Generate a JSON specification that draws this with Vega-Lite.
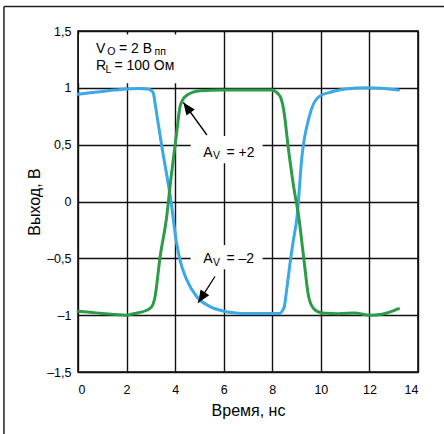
{
  "$schema": "https://vega.github.io/schema/vega-lite/v6.json",
  "width": 340,
  "height": 341,
  "autosize": "none",
  "padding": {"left": 78, "top": 31, "right": 26, "bottom": 62},
  "background": "white",
  "config": {
    "font": "Liberation Sans",
    "view": {"stroke": "#000", "strokeWidth": 1.5},
    "axis": {
      "grid": true,
      "gridColor": "#111",
      "gridWidth": 1.4,
      "gridOpacity": 1,
      "domain": false,
      "ticks": false,
      "labelFont": "Liberation Sans",
      "labelFontSize": 12.5,
      "labelColor": "#000",
      "titleFont": "Liberation Sans",
      "titleFontSize": 16,
      "titleFontWeight": "normal",
      "titleColor": "#000"
    }
  },
  "datasets": {
    "traces": [
      {"x": 0, "y": 0.943, "s": "-2"}, {"x": 0.5, "y": 0.956, "s": "-2"}, {"x": 1, "y": 0.968, "s": "-2"},
      {"x": 1.5, "y": 0.98, "s": "-2"}, {"x": 2, "y": 0.99, "s": "-2"}, {"x": 2.5, "y": 0.994, "s": "-2"},
      {"x": 2.85, "y": 0.99, "s": "-2"}, {"x": 3.0, "y": 0.98, "s": "-2"}, {"x": 3.1, "y": 0.955, "s": "-2"},
      {"x": 3.19, "y": 0.84, "s": "-2"}, {"x": 3.44, "y": 0.5, "s": "-2"}, {"x": 3.83, "y": 0, "s": "-2"},
      {"x": 4.04, "y": -0.34, "s": "-2"}, {"x": 4.2, "y": -0.515, "s": "-2"}, {"x": 4.48, "y": -0.69, "s": "-2"},
      {"x": 4.89, "y": -0.838, "s": "-2"}, {"x": 5.44, "y": -0.925, "s": "-2"}, {"x": 6.0, "y": -0.965, "s": "-2"},
      {"x": 6.5, "y": -0.98, "s": "-2"}, {"x": 7, "y": -0.985, "s": "-2"}, {"x": 8.3, "y": -0.985, "s": "-2"},
      {"x": 8.42, "y": -0.96, "s": "-2"}, {"x": 8.5, "y": -0.92, "s": "-2"}, {"x": 8.59, "y": -0.78, "s": "-2"},
      {"x": 8.73, "y": -0.544, "s": "-2"}, {"x": 8.87, "y": -0.339, "s": "-2"}, {"x": 9.02, "y": -0.134, "s": "-2"},
      {"x": 9.22, "y": 0.394, "s": "-2"}, {"x": 9.52, "y": 0.745, "s": "-2"}, {"x": 9.91, "y": 0.92, "s": "-2"},
      {"x": 10.46, "y": 0.965, "s": "-2"}, {"x": 11.0, "y": 0.99, "s": "-2"}, {"x": 11.97, "y": 1.0, "s": "-2"},
      {"x": 13.2, "y": 0.98, "s": "-2"},

      {"x": 0, "y": -0.966, "s": "+2"}, {"x": 0.5, "y": -0.975, "s": "+2"}, {"x": 1, "y": -0.985, "s": "+2"},
      {"x": 1.5, "y": -0.993, "s": "+2"}, {"x": 2, "y": -1.0, "s": "+2"}, {"x": 2.28, "y": -0.987, "s": "+2"},
      {"x": 2.83, "y": -0.957, "s": "+2"}, {"x": 3.03, "y": -0.928, "s": "+2"}, {"x": 3.17, "y": -0.84, "s": "+2"},
      {"x": 3.38, "y": -0.488, "s": "+2"}, {"x": 3.65, "y": -0.136, "s": "+2"}, {"x": 3.82, "y": 0.19, "s": "+2"},
      {"x": 4.06, "y": 0.6, "s": "+2"}, {"x": 4.2, "y": 0.834, "s": "+2"}, {"x": 4.3, "y": 0.89, "s": "+2"},
      {"x": 4.48, "y": 0.935, "s": "+2"}, {"x": 5.02, "y": 0.975, "s": "+2"}, {"x": 5.93, "y": 0.981, "s": "+2"},
      {"x": 7.99, "y": 0.981, "s": "+2"}, {"x": 8.15, "y": 0.965, "s": "+2"}, {"x": 8.33, "y": 0.922, "s": "+2"},
      {"x": 8.47, "y": 0.805, "s": "+2"}, {"x": 8.67, "y": 0.453, "s": "+2"}, {"x": 8.88, "y": 0.13, "s": "+2"},
      {"x": 9.09, "y": -0.134, "s": "+2"}, {"x": 9.29, "y": -0.488, "s": "+2"}, {"x": 9.5, "y": -0.84, "s": "+2"},
      {"x": 9.71, "y": -0.943, "s": "+2"}, {"x": 10.05, "y": -0.981, "s": "+2"}, {"x": 10.73, "y": -0.987, "s": "+2"},
      {"x": 11.42, "y": -0.981, "s": "+2"}, {"x": 11.7, "y": -0.99, "s": "+2"}, {"x": 11.97, "y": -1.0, "s": "+2"},
      {"x": 12.52, "y": -0.992, "s": "+2"}, {"x": 13.2, "y": -0.943, "s": "+2"}
    ],
    "boxes": [
      {"x": 0.04, "x2": 4.6, "y": 1.04, "y2": 1.47},
      {"x": 4.64, "x2": 7.6, "y": 0.336, "y2": 0.576},
      {"x": 4.64, "x2": 7.6, "y": -0.596, "y2": -0.383}
    ],
    "frame": [
      {"x": -3.05, "x2": 15.6, "y": 1.7155, "y2": 1.7155},
      {"x": -3.05, "x2": -3.05, "y": -2.2, "y2": 1.7155}
    ],
    "shafts": [
      {"x": 5.31, "y": 0.585, "x2": 4.34, "y2": 0.871},
      {"x": 5.64, "y": -0.66, "x2": 4.95, "y2": -0.89}
    ],
    "heads": [
      {"x": 4.34, "y": 0.871, "gain": "+2"},
      {"x": 4.95, "y": -0.89, "gain": "-2"}
    ],
    "notes": [
      {"x": 0.741, "y": 1.31, "label": "V", "part": "main"},
      {"x": 1.2, "y": 1.31, "label": "O", "part": "sub"},
      {"x": 1.69, "y": 1.31, "label": "= 2 В", "part": "main"},
      {"x": 3.15, "y": 1.31, "label": "пп", "part": "sub"},
      {"x": 0.741, "y": 1.155, "label": "R", "part": "main"},
      {"x": 1.135, "y": 1.155, "label": "L", "part": "sub"},
      {"x": 1.5, "y": 1.155, "label": "= 100 Ом", "part": "main"},
      {"x": 5.16, "y": 0.394, "label": "A", "part": "main"},
      {"x": 5.56, "y": 0.394, "label": "V", "part": "sub"},
      {"x": 6.115, "y": 0.394, "label": "= +2", "part": "main"},
      {"x": 5.16, "y": -0.544, "label": "A", "part": "main"},
      {"x": 5.56, "y": -0.544, "label": "V", "part": "sub"},
      {"x": 6.115, "y": -0.544, "label": "= –2", "part": "main"}
    ]
  },
  "encoding": {
    "x": {
      "field": "x",
      "type": "quantitative",
      "scale": {"domain": [0, 14], "nice": false, "zero": false},
      "axis": {"title": "Время, нс", "values": [0, 2, 4, 6, 8, 10, 12, 14], "labelPadding": 11, "titlePadding": 7}
    },
    "y": {
      "field": "y",
      "type": "quantitative",
      "scale": {"domain": [-1.5, 1.5], "nice": false, "zero": false},
      "axis": {
        "title": "Выход, В",
        "values": [-1.5, -1, -0.5, 0, 0.5, 1, 1.5],
        "labelExpr": "(datum.value < 0 ? '–' : '') + replace(format(abs(datum.value), '~g'), '.', ',')",
        "labelPadding": 7,
        "titlePadding": 4
      }
    }
  },
  "layer": [
    {
      "data": {"name": "frame"},
      "mark": {"type": "rule", "stroke": "#222", "strokeWidth": 1.5},
      "encoding": {"x2": {"field": "x2"}, "y2": {"field": "y2"}}
    },
    {
      "data": {"name": "boxes"},
      "mark": {"type": "rect", "fill": "white"},
      "encoding": {"x2": {"field": "x2"}, "y2": {"field": "y2"}}
    },
    {
      "data": {"name": "traces"},
      "mark": {"type": "line", "strokeWidth": 3, "interpolate": "monotone", "strokeCap": "round", "strokeJoin": "round"},
      "encoding": {
        "color": {
          "field": "s",
          "type": "nominal",
          "scale": {"domain": ["-2", "+2"], "range": ["#3AA9E5", "#2C9C48"]},
          "legend": null
        },
        "order": {"field": "x", "type": "quantitative"}
      }
    },
    {
      "data": {"name": "shafts"},
      "mark": {"type": "rule", "stroke": "#000", "strokeWidth": 1.3},
      "encoding": {"x2": {"field": "x2"}, "y2": {"field": "y2"}}
    },
    {
      "data": {"name": "heads"},
      "transform": [{"filter": "datum.gain === '+2'"}],
      "mark": {"type": "point", "shape": "M0,0L-0.42,1L0.42,1Z", "size": 600, "filled": true, "fill": "#000", "opacity": 1, "angle": 324}
    },
    {
      "data": {"name": "heads"},
      "transform": [{"filter": "datum.gain === '-2'"}],
      "mark": {"type": "point", "shape": "M0,0L-0.42,1L0.42,1Z", "size": 600, "filled": true, "fill": "#000", "opacity": 1, "angle": 213}
    },
    {
      "data": {"name": "notes"},
      "transform": [{"filter": "datum.part === 'main'"}],
      "mark": {"type": "text", "align": "left", "baseline": "alphabetic", "fontSize": 14, "font": "Liberation Sans", "color": "#000"},
      "encoding": {"text": {"field": "label"}}
    },
    {
      "data": {"name": "notes"},
      "transform": [{"filter": "datum.part === 'sub'"}],
      "mark": {"type": "text", "align": "left", "baseline": "alphabetic", "fontSize": 10.5, "dy": 2.5, "font": "Liberation Sans", "color": "#000"},
      "encoding": {"text": {"field": "label"}}
    }
  ]
}
